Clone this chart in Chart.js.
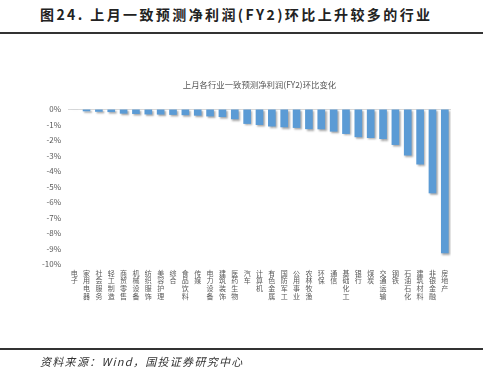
<!DOCTYPE html>
<html>
<head>
<meta charset="utf-8">
<script src="https://cdn.jsdelivr.net/npm/chart.js@4"></script>
<style>
  html, body { margin: 0; padding: 0; background: #fff; }
  body { width: 495px; height: 383px; position: relative; overflow: hidden; font-family: "Noto Sans CJK SC", sans-serif; }
  #page-title { position: absolute; left: 40px; top: 4px; font-size: 14px; font-weight: bold; color: #222; letter-spacing: 2.4px; white-space: nowrap; }
  .rule { position: absolute; left: 0; width: 483px; height: 1.5px; background: #333; }
  #source { position: absolute; left: 40px; top: 353px; font-size: 11px; font-style: italic; color: #333; letter-spacing: 1.3px; white-space: nowrap; }
  #chart-box { position: absolute; left: 0; top: 0; width: 495px; height: 383px; }
</style>
</head>
<body>
<div id="page-title">图24. 上月一致预测净利润(FY2)环比上升较多的行业</div>
<div class="rule" style="top:32px"></div>
<div id="chart-box"><canvas id="industry-chart"></canvas></div>
<div class="rule" style="top:348px"></div>
<div id="source">资料来源：Wind，国投证券研究中心</div>

<script>
const industryCanvas = document.querySelector("#industry-chart");

/* ============================================= */
/*                  Data                         */
/* ============================================= */
const industries = [
  "电子", "家用电器", "社会服务", "轻工制造", "商贸零售", "机械设备",
  "纺织服饰", "美容护理", "综合", "食品饮料", "传媒", "电力设备",
  "建筑装饰", "医药生物", "汽车", "计算机", "有色金属", "国防军工",
  "公用事业", "农林牧渔", "环保", "通信", "基础化工", "银行",
  "煤炭", "交通运输", "钢铁", "石油石化", "建筑材料", "非银金融", "房地产"
];
// 环比变化 (%)
const changes = [
  -0.03, -0.15, -0.18, -0.2, -0.3, -0.32,
  -0.35, -0.36, -0.38, -0.4, -0.43, -0.48,
  -0.52, -0.66, -0.96, -1.03, -1.13, -1.18,
  -1.22, -1.3, -1.31, -1.46, -1.61, -1.82,
  -1.87, -1.94, -2.32, -3.0, -3.58, -5.44, -9.3
];
const yTicks = [0, -1, -2, -3, -4, -5, -6, -7, -8, -9, -10];
const chartTitle = "上月各行业一致预测净利润(FY2)环比变化";

/* ============================================= */
/*                  Plugins                      */
/* ============================================= */
const barShadow = {
  id: "barShadow",
  beforeDatasetsDraw(chart) {
    const ctx = chart.ctx;
    ctx.save();
    ctx.shadowColor = "rgba(0,0,0,0.35)";
    ctx.shadowOffsetX = 1.5;
    ctx.shadowOffsetY = 1.5;
    ctx.shadowBlur = 2;
  },
  afterDatasetsDraw(chart) {
    chart.ctx.restore();
  }
};

const centerTitle = {
  id: "centerTitle",
  afterDraw(chart) {
    const ctx = chart.ctx;
    const area = chart.chartArea;
    ctx.save();
    ctx.font = '8.4px "Noto Sans CJK SC"';
    ctx.fillStyle = "#595959";
    ctx.textAlign = "center";
    ctx.textBaseline = "middle";
    ctx.fillText(chartTitle, (area.left + area.right) / 2, 85);
    ctx.restore();
  }
};

/* ============================================= */
/*                  Chart                        */
/* ============================================= */
const industryChart = new Chart(industryCanvas, {
  type: "bar",
  data: {
    labels: industries.map((name) => name.split("")),
    datasets: [
      {
        label: "环比变化",
        data: changes,
        backgroundColor: "#5b9bd5",
        barPercentage: 0.62,
        categoryPercentage: 1,
      },
    ],
  },
  options: {
    responsive: true,
    maintainAspectRatio: false,
    animation: false,
    layout: {
      padding: { top: 109, right: 44, bottom: 69, left: 0 },
    },
    scales: {
      x: {
        grid: { display: false, drawTicks: false },
        border: { display: false },
        ticks: {
          autoSkip: false,
          maxRotation: 0,
          minRotation: 0,
          padding: 5,
          color: "#595959",
          font: { family: "Noto Sans CJK SC", size: 7, lineHeight: 1.1 },
        },
        afterFit(scale) {
          scale.height = 50;
        },
      },
      y: {
        min: -10,
        max: 0,
        afterBuildTicks(scale) {
          scale.ticks = yTicks.map((v) => ({ value: v }));
        },
        grid: {
          drawTicks: false,
          color: (c) => (c.tick && c.tick.value === 0 ? "#d9d9d9" : "rgba(0,0,0,0)"),
        },
        border: { display: false },
        ticks: {
          padding: 7,
          color: "#595959",
          font: { family: "Noto Sans CJK SC", size: 8 },
          callback: (v) => v + "%",
        },
        afterFit(scale) {
          scale.width = 68;
        },
      },
    },
    plugins: {
      legend: { display: false },
      title: { display: false },
      tooltip: { enabled: false },
    },
  },
  plugins: [barShadow, centerTitle],
});
</script>
</body>
</html>
